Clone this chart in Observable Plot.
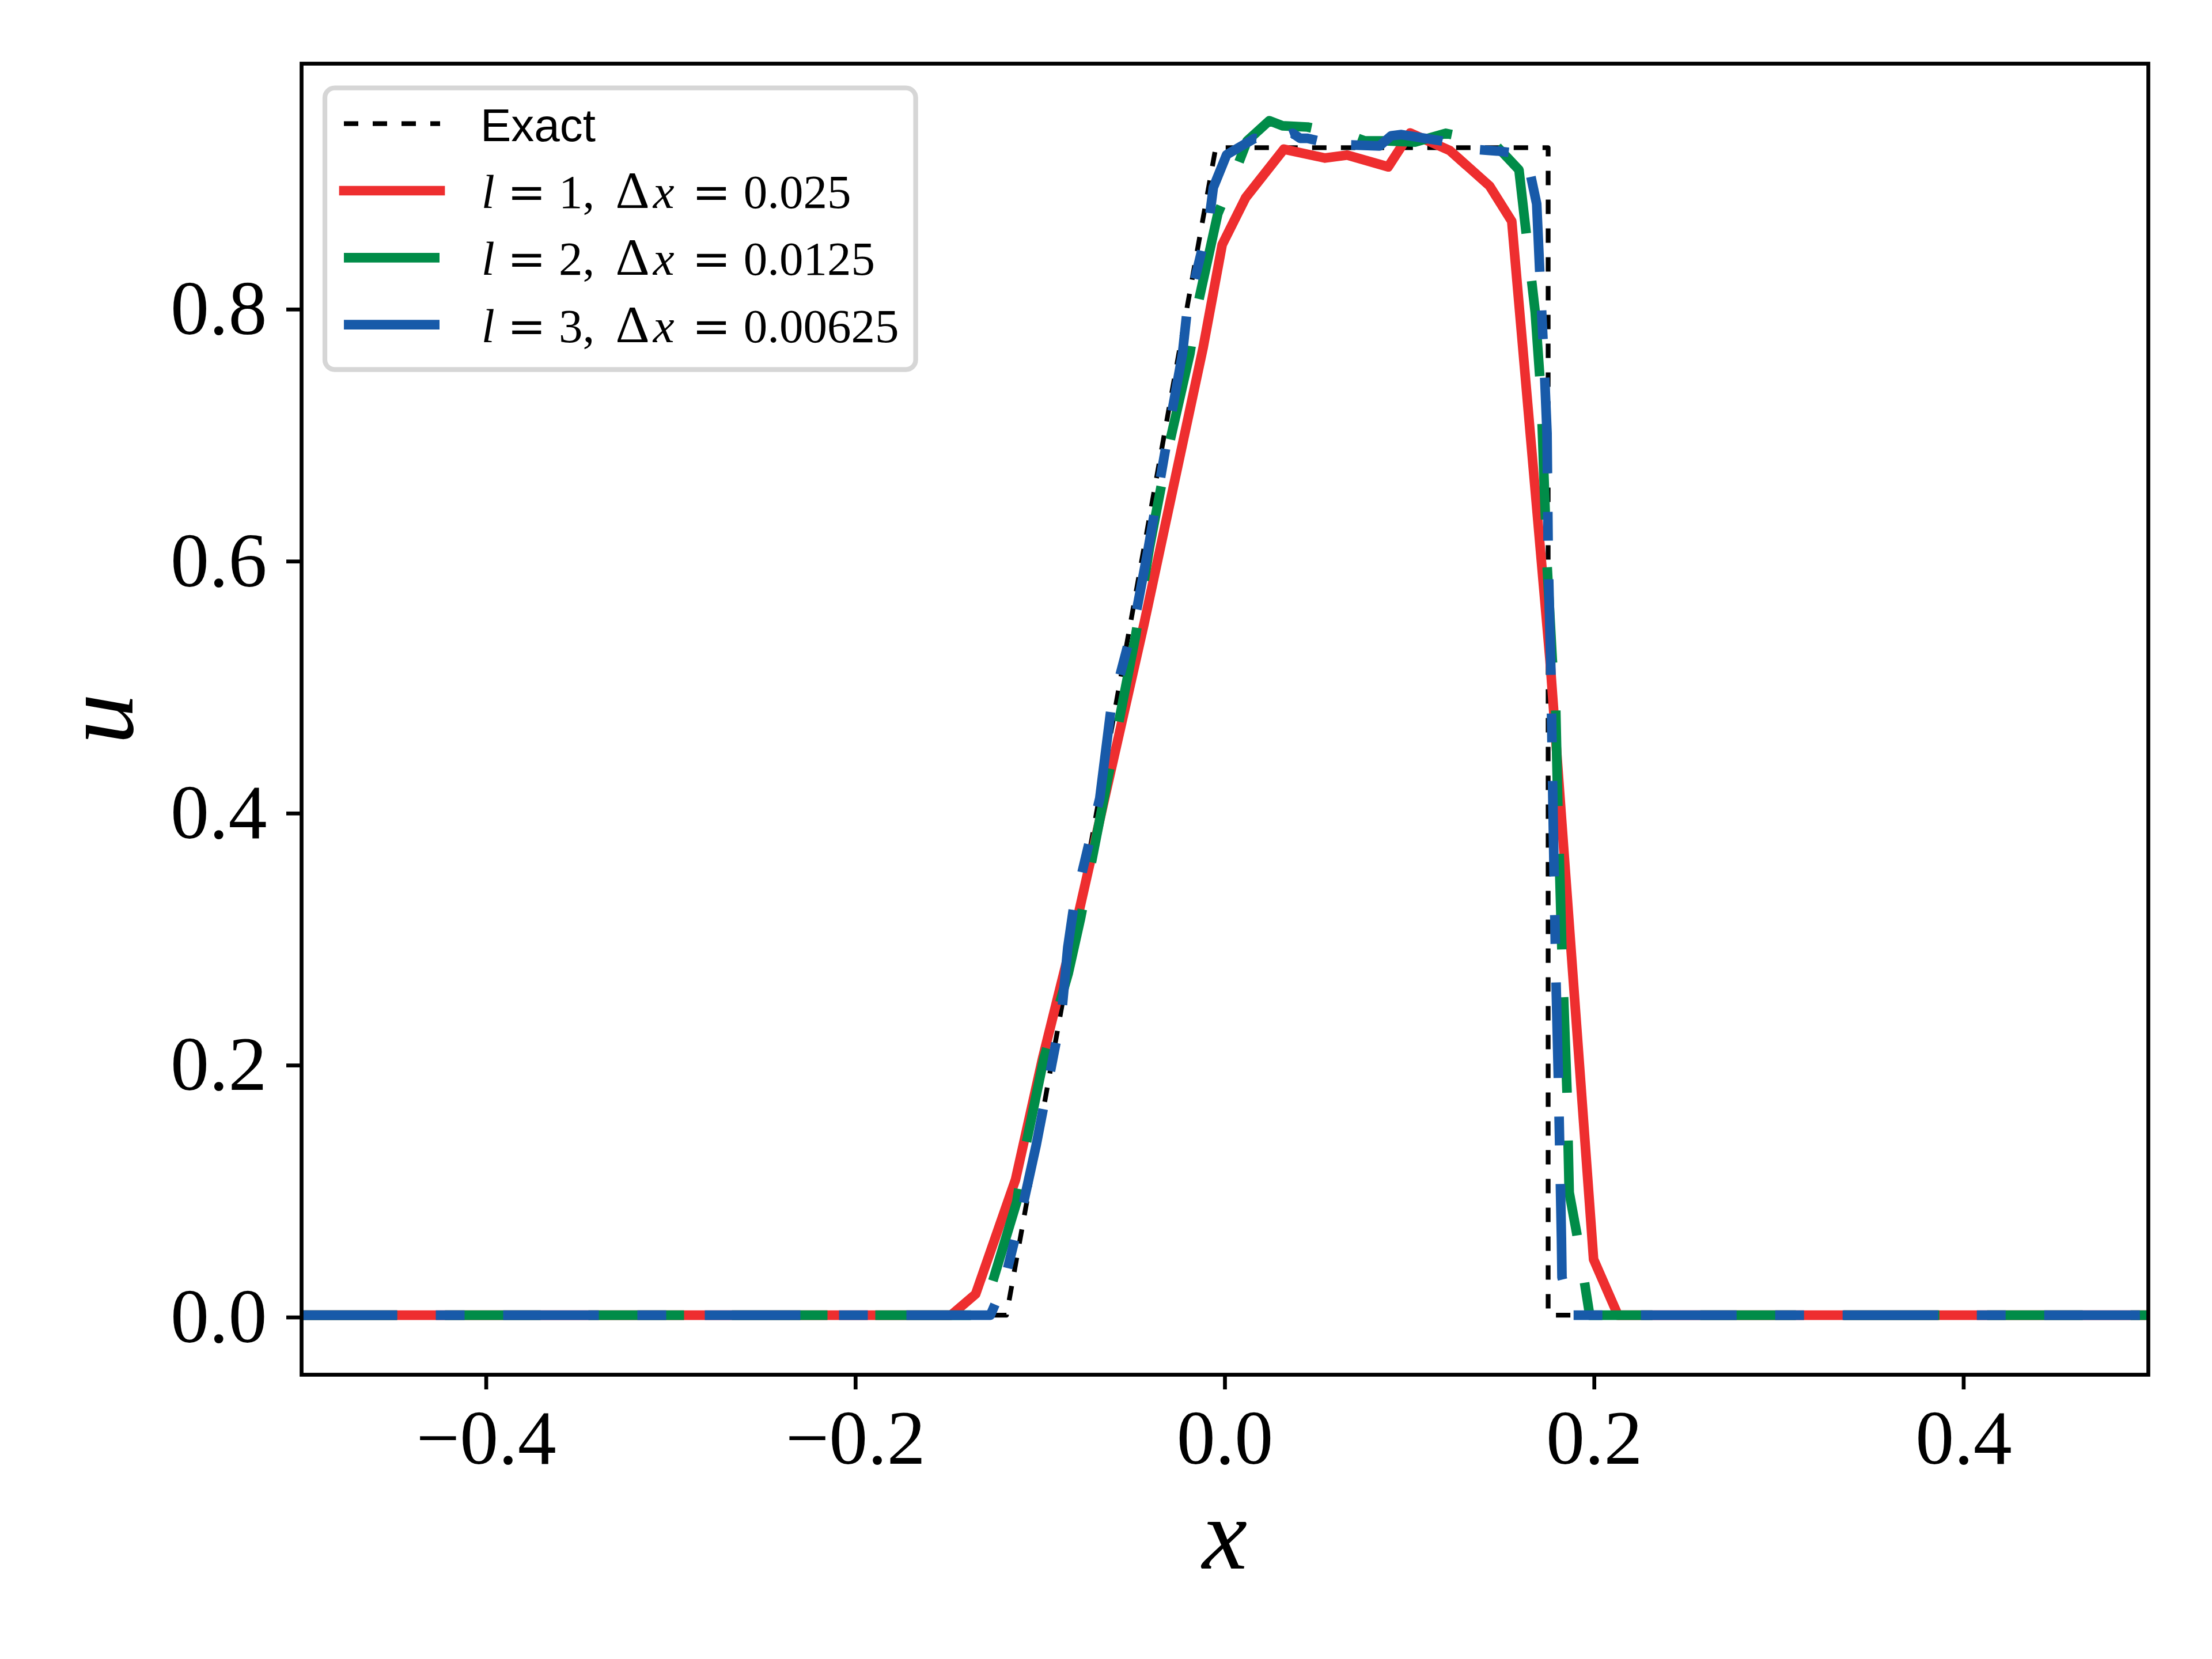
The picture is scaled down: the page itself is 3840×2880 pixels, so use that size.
<!DOCTYPE html>
<html>
<head>
<meta charset="utf-8">
<script src="https://cdn.jsdelivr.net/npm/d3@7"></script>
<script src="https://cdn.jsdelivr.net/npm/@observablehq/plot@0.6"></script>
<style>
  html, body { margin: 0; padding: 0; background: white; }
  #chart svg { display: block; }
</style>
</head>
<body>
<div id="chart"></div>
<script>
// ---- data ----
const xTicks = [-0.4, -0.2, 0.0, 0.2, 0.4];
const yTicks = [0.0, 0.2, 0.4, 0.6, 0.8];

const exactX = [-0.5, -0.1183, -0.005, 0.175, 0.175, 0.5];
const exactU = [0, 0, 0.9266, 0.9266, 0, 0];

const l1X = [-0.5, -0.1483, -0.135, -0.1134, -0.0988, -0.0797, -0.0648, -0.0439, -0.0118, -0.0015,
             0.0112, 0.0319, 0.0542, 0.0662, 0.0884, 0.1003, 0.1218, 0.1433, 0.1553, 0.176, 0.1996, 0.2128, 0.5];
const l1U = [0, 0, 0.0167, 0.1076, 0.2035, 0.316, 0.4125, 0.548, 0.768, 0.8496,
             0.8869, 0.9254, 0.9184, 0.9207, 0.9114, 0.9383, 0.9243, 0.8962, 0.8682, 0.52, 0.0443, 0, 0];

const l2X = [-0.5, -0.131, -0.1274, -0.1127, -0.1085, -0.0981, -0.0849, -0.0782, -0.0633, -0.0484,
             -0.0409, -0.0302, -0.019, -0.015, -0.0039, 0.0065, 0.012, 0.024, 0.0311, 0.0447,
             0.0701, 0.0757, 0.0884, 0.1028, 0.1195, 0.1457, 0.1592, 0.168, 0.1712, 0.1744,
             0.1772, 0.1791, 0.1802, 0.1824, 0.1852, 0.1864, 0.1905, 0.1975, 0.5];
const l2U = [0, 0, 0.0188, 0.09, 0.13, 0.2035, 0.271, 0.315, 0.427, 0.539,
             0.609, 0.691, 0.763, 0.80, 0.874, 0.911, 0.932, 0.948, 0.944, 0.943,
             0.935, 0.932, 0.932, 0.931, 0.938, 0.930, 0.909, 0.796, 0.73, 0.596,
             0.521, 0.4825, 0.407, 0.292, 0.178, 0.0974, 0.0647, 0, 0];

const l3X = [-0.5, -0.127, -0.1239, -0.1197, -0.11, -0.1022, -0.0884, -0.0851, -0.082, -0.0678,
             -0.0618, -0.0484, -0.0417, -0.0293, -0.023, -0.0206, -0.0086, -0.0063, 0.0009, 0.016,
             0.0232, 0.0264, 0.0311, 0.0367, 0.0407, 0.0447, 0.0534, 0.059, 0.063, 0.0837,
             0.09, 0.0956, 0.1171, 0.1243, 0.1377, 0.1473, 0.1585, 0.1624, 0.164, 0.1688,
             0.1704, 0.1728, 0.1744, 0.1751, 0.1765, 0.1776, 0.1791, 0.1805, 0.1815, 0.1822,
             0.1825, 0.1878, 0.5];
const l3U = [0, 0, 0.0106, 0.025, 0.083, 0.135, 0.24, 0.292, 0.323, 0.41,
             0.48, 0.555, 0.607, 0.712, 0.763, 0.796, 0.869, 0.895, 0.921, 0.934,
             0.933, 0.929, 0.935, 0.938, 0.934, 0.934, 0.931, 0.925, 0.929, 0.928,
             0.936, 0.937, 0.932, 0.930, 0.925, 0.924, 0.922, 0.920, 0.915, 0.882,
             0.83, 0.756, 0.70, 0.596, 0.51, 0.404, 0.275, 0.19, 0.115, 0.061,
             0.03, 0, 0];

const seriesNames = ["Exact", "l1", "l2", "l3"];
const levelNums = ["1", "2", "3"];
const dxLabels = ["0.025", "0.0125", "0.00625"];
const colors = {Exact: "#000000", l1: "#EE2E2F", l2: "#008C48", l3: "#185AA9"};

const toRows = (xs, us) => xs.map((x, i) => ({x, u: us[i]}));
const exact = toRows(exactX, exactU);
const l1 = toRows(l1X, l1U);
const l2 = toRows(l2X, l2U);
const l3 = toRows(l3X, l3U);

// ---- styles ----
const W = 3840, H = 2880;
const mL = 523, mR = 111, mT = 110, mB = 494;
const LW = 16.7;          // coloured line width (2 pt at 600 dpi)
const SPINE = 6.7;        // 0.8 pt
const serif = "'Liberation Serif', 'Times New Roman', serif";

const fmt = d3.format(".1f");

const chart = Plot.plot({
  width: W, height: H,
  marginLeft: mL, marginRight: mR, marginTop: mT, marginBottom: mB,
  style: {background: "white", fontFamily: serif, fontSize: "134px", color: "black"},
  x: {domain: [-0.5, 0.5]},
  y: {domain: [-0.0473, 0.9933]},
  marks: [
    Plot.line(exact, {x: "x", y: "u", stroke: colors.Exact, strokeWidth: 8.3,
      strokeDasharray: "25,25", strokeLinecap: "butt", strokeLinejoin: "round", clip: true}),
    Plot.line(l1, {x: "x", y: "u", stroke: colors.l1, strokeWidth: LW,
      strokeLinecap: "square", strokeLinejoin: "round", clip: true}),
    Plot.line(l2, {x: "x", y: "u", stroke: colors.l2, strokeWidth: LW,
      strokeDasharray: "166,83", strokeLinecap: "butt", strokeLinejoin: "round", clip: true}),
    Plot.line(l3, {x: "x", y: "u", stroke: colors.l3, strokeWidth: LW,
      strokeDasharray: "166,67,50,67", strokeLinecap: "butt", strokeLinejoin: "round", clip: true}),
    Plot.frame({stroke: "black", strokeWidth: SPINE}),
    Plot.axisX({ticks: xTicks, tickFormat: fmt, tickSize: 26, tickPadding: 33,
      strokeWidth: SPINE, label: null, fontSize: 134, fontFamily: serif}),
    Plot.axisY({ticks: yTicks, tickFormat: fmt, tickSize: 26, tickPadding: 34,
      strokeWidth: SPINE, label: null, fontSize: 134, fontFamily: serif, dy: 4})
  ]
});

document.getElementById("chart").appendChild(chart);

// ---- axis labels ----
const svg = d3.select(chart);
const cx = mL + (W - mL - mR) / 2;
const cy = mT + (H - mT - mB) / 2;
svg.append("text")
  .attr("x", cx).attr("y", 2723)
  .attr("text-anchor", "middle")
  .attr("font-family", serif).attr("font-style", "italic").attr("font-size", 176)
  .attr("fill", "black")
  .text("x");
svg.append("text")
  .attr("transform", `translate(230,${cy}) rotate(-90)`)
  .attr("text-anchor", "middle")
  .attr("font-family", serif).attr("font-style", "italic").attr("font-size", 176)
  .attr("fill", "black")
  .text("u");

// ---- legend ----
const lg = svg.append("g").attr("text-anchor", "start");
lg.append("rect")
  .attr("x", 564).attr("y", 152.7).attr("width", 1025.6).attr("height", 488.8)
  .attr("rx", 17).attr("ry", 17)
  .attr("fill", "white").attr("fill-opacity", 0.8)
  .attr("stroke", "#d6d6d6").attr("stroke-width", 8.3);

const rowY = [214.7, 331, 447.3, 563.6];
const hx0 = 597, hx1 = 764, tx0 = 834, em = 83.3;
const handleStyles = [
  {w: 8.3, dash: "25,25", cap: "butt"},
  {w: LW, dash: null, cap: "square"},
  {w: LW, dash: "166,83", cap: "butt"},
  {w: LW, dash: "166,67,50,67", cap: "butt"}
];
seriesNames.forEach((s, i) => {
  const st = handleStyles[i];
  const ln = lg.append("line")
    .attr("x1", hx0).attr("x2", hx1).attr("y1", rowY[i]).attr("y2", rowY[i])
    .attr("stroke", colors[s]).attr("stroke-width", st.w).attr("stroke-linecap", st.cap);
  if (st.dash) ln.attr("stroke-dasharray", st.dash);
});

// "Exact" (sans)
lg.append("text")
  .attr("x", tx0).attr("y", rowY[0] + 30)
  .attr("text-anchor", "start")
  .attr("font-family", "'Liberation Sans', Arial, sans-serif").attr("font-size", 80)
  .attr("fill", "black")
  .text(seriesNames[0]);

// math rows: l = n, Δx = value
function piece(y, xEm, str, opts = {}) {
  lg.append("text")
    .attr("x", tx0 + xEm * em).attr("y", y)
    .attr("text-anchor", opts.anchor || "start")
    .attr("font-family", opts.family || serif)
    .attr("font-style", opts.italic ? "italic" : "normal")
    .attr("font-size", opts.size || 83)
    .attr("fill", "black")
    .text(str);
}
levelNums.forEach((n, i) => {
  const y = rowY[i + 1] + 30;
  piece(y, 0.02, "l", {italic: true});
  piece(y, 0.965, "=", {anchor: "middle", family: "'DejaVu Serif', serif", size: 80});
  piece(y, 1.632, n + ",");
  piece(y, 3.17, "Δ", {anchor: "middle", size: 92});
  piece(y, 3.82, "x", {anchor: "middle", italic: true});
  piece(y, 4.815, "=", {anchor: "middle", family: "'DejaVu Serif', serif", size: 80});
  piece(y, 5.482, dxLabels[i]);
});
</script>
</body>
</html>
